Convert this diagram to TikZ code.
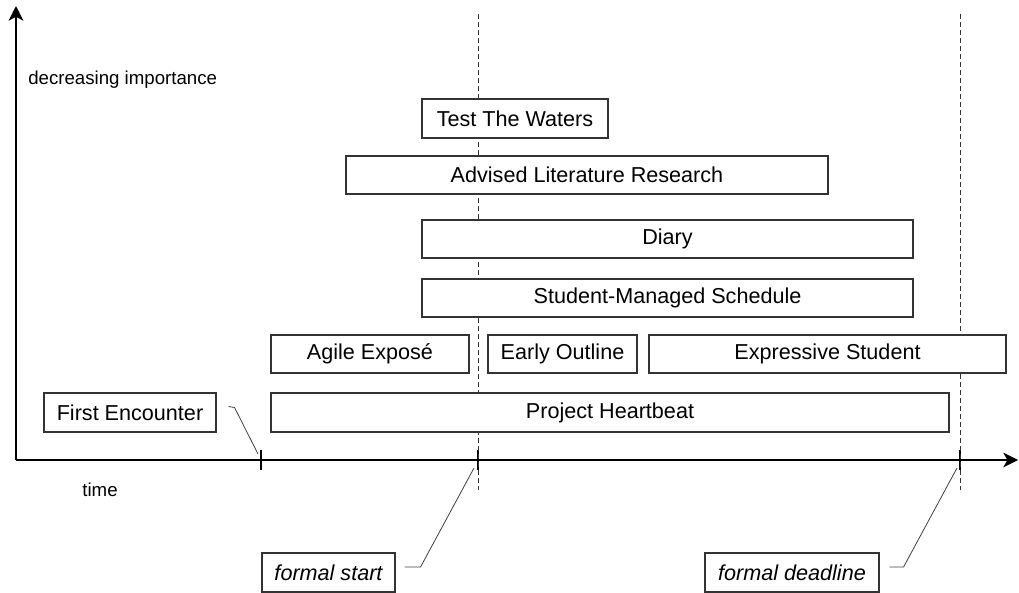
\documentclass[tikz,border=0pt]{standalone}
\usepackage{fontspec}
\setmainfont{Liberation Sans}
\usetikzlibrary{arrows.meta,calc}
\begin{document}
\begin{tikzpicture}[x=0.75pt,y=-0.75pt,
  box/.style={draw=black!80,fill=white,line width=0.8pt,inner sep=0pt,font=\fontsize{16.2}{19}\selectfont},
  axis/.style={line width=1.6pt,black},
  tick/.style={line width=1.6pt,black},
  guide/.style={draw=black!80,line width=0.7pt,dash pattern=on 3.5pt off 2.5pt},
  conn/.style={draw=black!75,line width=0.6pt},
  lbl/.style={font=\fontsize{14}{17}\selectfont,inner sep=0pt}]
\newcommand\mybox[7][]{%
  \node[box,#1,minimum width={(#5-#3)*0.75pt},minimum height={(#6-#4)*0.75pt}] (#2) at ({(#3+#5)/2},{(#4+#6)/2}) {#7};}
\useasboundingbox (0,0) rectangle (1019,592);
% axes
\coordinate (o) at (16,460);
\coordinate (ytop) at (16,6);
\coordinate (xend) at (1018,460);
\draw[axis,-{Stealth[length=11pt,width=11pt,inset=3pt]}] (o) -- (ytop);
\draw[axis,-{Stealth[length=11pt,width=11pt,inset=3pt]}] (o) -- (xend);
% ticks
\coordinate (t1) at (261,460);
\coordinate (t2) at (478,460);
\coordinate (t3) at (960,460);
\foreach \t in {t1,t2,t3}{\draw[tick] ($(\t)+(0,-10)$) -- ($(\t)+(0,10)$);}
% guide lines
\coordinate (g1a) at (478,14); \coordinate (g1b) at (478,490);
\coordinate (g2a) at (960,14); \coordinate (g2b) at (960,490);
\draw[guide] (g1a) -- (g1b);
\draw[guide] (g2a) -- (g2b);
% labels
\node[lbl,anchor=west] (imp) at (28,80) {decreasing importance};
\node[lbl] (time) at (100,490) {time};
% boxes
\mybox{tw}{422}{99}{608}{138}{Test The Waters}
\mybox{alr}{346}{156}{828}{194}{Advised Literature Research}
\mybox{diary}{422}{220}{913}{258}{Diary}
\mybox{sms}{422}{279}{913}{317}{Student-Managed Schedule}
\mybox{ae}{271}{335}{469}{373}{Agile Exposé}
\mybox{eo}{488}{335}{637}{373}{Early Outline}
\mybox{es}{649}{335}{1006}{373}{Expressive Student}
\mybox{fe}{44}{393}{216}{432}{First Encounter}
\mybox{ph}{271}{393}{949}{432}{Project Heartbeat}
\mybox[font=\fontsize{16.2}{19}\selectfont\itshape]{fs}{262}{553}{395}{592}{formal start}
\mybox[font=\fontsize{16.2}{19}\selectfont\itshape]{fd}{705}{553}{879}{592}{formal deadline}
% connectors
\draw[conn] ($(fe.east)+(12,-6)$) -- ($(fe.east)+(18,-5)$) -- ($(t1)+(-3,-6)$);
\draw[conn] ($(fs.east)+(9,-5.5)$) -- ($(fs.east)+(25,-5.5)$) -- ($(t2)+(-4,8)$);
\draw[conn] ($(fd.east)+(10,-5.5)$) -- ($(fd.east)+(24,-5.5)$) -- ($(t3)+(-3,8)$);
\end{tikzpicture}
\end{document}
